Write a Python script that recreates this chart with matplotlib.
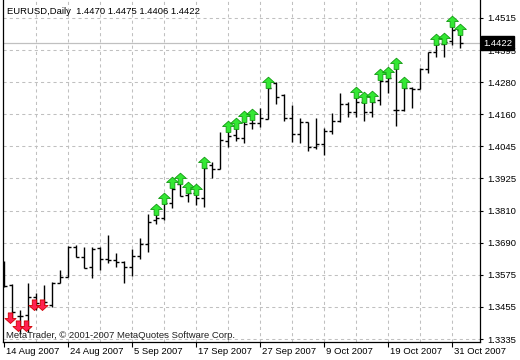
import matplotlib
matplotlib.use("Agg")
import matplotlib.pyplot as plt
import numpy as np
from matplotlib.path import Path

plt.rcParams['font.family'] = ['Liberation Sans', 'DejaVu Sans']

# EURUSD daily, 14 Aug 2007 - 1 Nov 2007 (one entry per bar)
opens = [1.3589, 1.3534, 1.3420, 1.3423, 1.3489, 1.3471, 1.3460, 1.3541, 1.3563, 1.3673,
         1.3636, 1.3600, 1.3670, 1.3629, 1.3625, 1.3618, 1.3600, 1.3640, 1.3684, 1.3772,
         1.3780, 1.3835, 1.3905, 1.3864, 1.3872, 1.3853, 1.3975, 1.3960, 1.4063, 1.4085,
         1.4074, 1.4129, 1.4129, 1.4144, 1.4276, 1.4232, 1.4147, 1.4089, 1.4133, 1.4041,
         1.4052, 1.4100, 1.4136, 1.4199, 1.4170, 1.4206, 1.4170, 1.4214, 1.4283, 1.4177,
         1.4177, 1.4258, 1.4254, 1.4328, 1.4390, 1.4419, 1.4430, 1.4470]
highs = [1.3622, 1.3537, 1.3442, 1.3541, 1.3504, 1.3534, 1.3545, 1.3589, 1.3677, 1.3681,
         1.3673, 1.3673, 1.3673, 1.3717, 1.3651, 1.3622, 1.3666, 1.3706, 1.3795, 1.3813,
         1.3853, 1.3912, 1.3927, 1.3894, 1.3886, 1.3986, 1.3986, 1.4096, 1.4118, 1.4129,
         1.4155, 1.4162, 1.4184, 1.4280, 1.4280, 1.4236, 1.4195, 1.4147, 1.4133, 1.4147,
         1.4111, 1.4166, 1.4239, 1.4206, 1.4243, 1.4225, 1.4228, 1.4309, 1.4317, 1.4350,
         1.4280, 1.4261, 1.4331, 1.4390, 1.4438, 1.4441, 1.4504, 1.4475]
lows = [1.3526, 1.3412, 1.3353, 1.3361, 1.3442, 1.3456, 1.3453, 1.3541, 1.3563, 1.3636,
        1.3596, 1.3559, 1.3589, 1.3614, 1.3600, 1.3541, 1.3567, 1.3629, 1.3655, 1.3758,
        1.3772, 1.3817, 1.3861, 1.3839, 1.3828, 1.3820, 1.3927, 1.3960, 1.4041, 1.4063,
        1.4056, 1.4107, 1.4114, 1.4144, 1.4199, 1.4136, 1.4059, 1.4056, 1.4026, 1.4033,
        1.4011, 1.4089, 1.4133, 1.4151, 1.4151, 1.4136, 1.4151, 1.4195, 1.4239, 1.4118,
        1.4173, 1.4184, 1.4254, 1.4313, 1.4372, 1.4372, 1.4416, 1.4406]
closes = [1.3530, 1.3434, 1.3420, 1.3489, 1.3467, 1.3471, 1.3541, 1.3563, 1.3673, 1.3636,
          1.3596, 1.3666, 1.3629, 1.3625, 1.3618, 1.3600, 1.3640, 1.3684, 1.3765, 1.3780,
          1.3835, 1.3886, 1.3861, 1.3872, 1.3853, 1.3964, 1.3960, 1.4067, 1.4081, 1.4074,
          1.4125, 1.4129, 1.4147, 1.4258, 1.4225, 1.4147, 1.4089, 1.4133, 1.4041, 1.4052,
          1.4100, 1.4136, 1.4199, 1.4170, 1.4206, 1.4170, 1.4206, 1.4283, 1.4294, 1.4177,
          1.4258, 1.4254, 1.4328, 1.4390, 1.4419, 1.4427, 1.4471, 1.4422]

# signal arrows
up_bars = [19, 20, 21, 22, 23, 24, 25, 28, 29, 30, 31, 33, 44, 45, 46, 47, 48, 49, 50, 54, 55, 56, 57]
down_bars = [1, 2, 3, 4, 5]
down_prices = [1.3411, 1.3383, 1.3383, 1.3460, 1.3460]

date_bars = [0, 8, 16, 24, 32, 40, 48, 56]
date_labels = ["14 Aug 2007", "24 Aug 2007", "5 Sep 2007", "17 Sep 2007",
               "27 Sep 2007", "9 Oct 2007", "19 Oct 2007", "31 Oct 2007"]
ytick_vals = [1.3335, 1.3453, 1.3571, 1.3689, 1.3807, 1.3925, 1.4043, 1.4161, 1.4279, 1.4397, 1.4515]
ytick_labels = ["1.3335", "1.3455", "1.3575", "1.3690", "1.3810", "1.3925",
                "1.4045", "1.4160", "1.4280", "1.4395", "1.4515"]
last_price = 1.4422

fig = plt.figure(figsize=(5.2, 3.6), dpi=100)
ax = fig.add_axes([3/520, 18/360, 477/520, 342/360])
ax.set_xlim(-0.0625, 59.56)
ax.set_ylim(1.3324, 1.4581)

for s in ['left', 'right', 'bottom']:
    ax.spines[s].set_color('black')
    ax.spines[s].set_linewidth(0.9)
ax.spines['top'].set_visible(False)

# grid
grid_kw = dict(color='#c0c0c0', lw=0.75, ls=(0, (3, 3)), zorder=1)
for gx in range(4, 58, 4):
    ax.axvline(gx, **grid_kw)
for gy in ytick_vals:
    ax.axhline(gy, **grid_kw)
ax.axhline(last_price, color='#c0c0c0', lw=0.9, zorder=1)

# y axis on the right
ax.yaxis.tick_right()
ax.set_yticks(ytick_vals)
ax.set_yticklabels(ytick_labels)
ax.tick_params(axis='y', length=2.5, pad=2.5, labelsize=6.8, width=0.8)

ax.set_xticks(date_bars)
ax.set_xticklabels([])
ax.tick_params(axis='x', length=3.5, width=0.8)
for b, lab in zip(date_bars, date_labels):
    ax.text(b + 0.3, -0.027, lab, transform=ax.get_xaxis_transform(),
            fontsize=6.8, ha='left', va='center')

# bars
x = np.arange(len(opens))
ax.vlines(x, lows, highs, color='black', lw=1.0, zorder=3)
ax.hlines(opens, x - 0.375, x, color='black', lw=1.0, zorder=3)
ax.hlines(closes, x, x + 0.375, color='black', lw=1.0, zorder=3)

# arrows
up_verts = [(-0.2, -0.5), (0.2, -0.5), (0.2, 0.0), (0.5, 0.0), (0.0, 0.45),
            (-0.5, 0.0), (-0.2, 0.0), (-0.2, -0.5)]
up_marker = Path(up_verts, closed=True)
down_marker = Path([(vx, -vy) for vx, vy in up_verts], closed=True)

hi = np.array(highs)
ax.plot(up_bars, hi[up_bars], ls='none', marker=up_marker, ms=8.5,
        mfc='#33e833', mec='#129a12', mew=0.6, zorder=5)
ax.plot(np.array(down_bars) - 0.2, down_prices, ls='none', marker=down_marker, ms=8,
        mfc='#ff2050', mec='#d00000', mew=0.6, zorder=5)

# texts
fig.text(7/520, 1 - 11/360, "EURUSD,Daily  1.4470 1.4475 1.4406 1.4422",
         fontsize=6.8, ha='left', va='center')
fig.text(6/520, 1 - 335/360, "MetaTrader, \u00a9 2001-2007 MetaQuotes Software Corp.",
         fontsize=6.8, ha='left', va='center', color='#202020')
ax.text(1.006, last_price, "1.4422", transform=ax.get_yaxis_transform(),
        fontsize=6.8, color='white', ha='left', va='center', zorder=10, clip_on=False,
        bbox=dict(boxstyle='square,pad=0.25', fc='black', ec='black'))

fig.savefig('out.png', dpi=100)
